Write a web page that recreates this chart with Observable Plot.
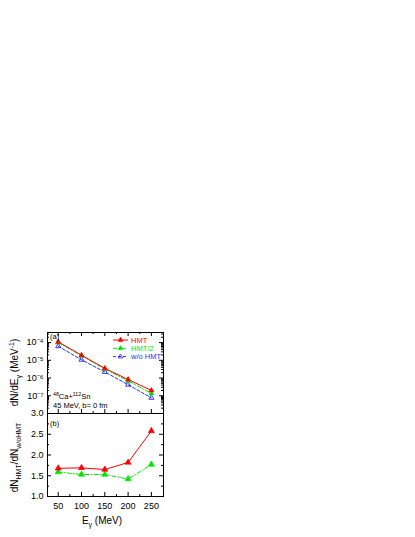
<!DOCTYPE html>
<html><head><meta charset="utf-8">
<script src="https://cdn.jsdelivr.net/npm/d3@7"></script>
<script src="https://cdn.jsdelivr.net/npm/@observablehq/plot@0.6"></script>
<style>
body{margin:0;background:#fff;}
#chart{position:absolute;left:0;top:320px;}
#chart svg{display:block;overflow:visible;}
</style></head><body><div id="chart"></div>
<script>
// ---- data ----
const energies = [50, 100, 150, 200, 250];
const spectrumHMT   = [1.1e-4, 1.95e-5, 3.5e-6, 8.3e-7, 2.0e-7];
const spectrumHMT2  = [1.0e-4, 1.8e-5, 3.2e-6, 7.0e-7, 1.36e-7];
const spectrumNoHMT = [6.2e-5, 1.07e-5, 2.2e-6, 4.2e-7, 7.6e-8];
const ratioHMT  = [1.68, 1.69, 1.65, 1.82, 2.58];
const ratioHMT2 = [1.59, 1.53, 1.53, 1.42, 1.77];
const seriesNames = ["HMT", "HMT/2", "w/o HMT"];
const xTicks = [50, 100, 150, 200, 250];
const xMinorTicks = [75, 125, 175, 225];
const logTicks = [1e-8, 1e-7, 1e-6, 1e-5, 1e-4];
const logTickLabels = ["", "10\u207B\u2077", "10\u207B\u2076", "10\u207B\u2075", "10\u207B\u2074"];
const ratioTicks = [1.0, 1.5, 2.0, 2.5, 3.0];
const ratioMinorTicks = [1.25, 1.75, 2.25, 2.75];

// ---- layout / style ----
const RED = "#ff0000", GREEN = "#00e600", BLUE = "#2a2aff";
const DASHDOT = "4,2,1,2", DASH = "3,2";
const W = 170, ML = 47, MR = 7, WI = W - ML - MR;
const MT1 = 12, H1 = 81;
const H2 = 83, MB2 = 41;
const xDomain = [27, 276];
const FONT = "Arial, 'Liberation Sans', sans-serif";
const MAJ = 4, MIN = 2;

const logMinor = [];
for (let e = -8; e <= -4; e++) for (let m = 2; m <= 9; m++) { const v = m * Math.pow(10, e); if (v <= 3.7e-4) logMinor.push(v); }

function frameTicksX(major, minor, H, bottom = true, top = true) {
  const out = [];
  if (bottom) {
    out.push(Plot.tickX(major, {x: d => d, insetTop: H - MAJ, stroke: "black"}));
    out.push(Plot.tickX(minor, {x: d => d, insetTop: H - MIN, stroke: "black"}));
  }
  if (top) {
    out.push(Plot.tickX(major, {x: d => d, insetBottom: H - MAJ, stroke: "black"}));
    out.push(Plot.tickX(minor, {x: d => d, insetBottom: H - MIN, stroke: "black"}));
  }
  return out;
}
function frameTicksY(major, minor) {
  return [
    Plot.tickY(major, {y: d => d, insetRight: WI - MAJ, stroke: "black"}),
    Plot.tickY(minor, {y: d => d, insetRight: WI - MIN, stroke: "black"}),
    Plot.tickY(major, {y: d => d, insetLeft: WI - MAJ, stroke: "black"}),
    Plot.tickY(minor, {y: d => d, insetLeft: WI - MIN, stroke: "black"})
  ];
}

// ---- upper panel ----
const p1 = Plot.plot({
  width: W, height: MT1 + H1,
  marginTop: MT1, marginBottom: 0, marginLeft: ML, marginRight: MR,
  style: {fontFamily: FONT, fontSize: "9px", background: "white", overflow: "visible", color: "black"},
  x: {domain: xDomain, axis: null},
  y: {type: "log", domain: [1e-8, 3.7e-4]},
  marks: [
    Plot.axisY({ticks: logTicks.slice(1), tickSize: 0, tickPadding: 4, label: null,
      tickFormat: d => logTickLabels[logTicks.indexOf(d)]}),
    ...frameTicksX(xTicks, xMinorTicks, H1),
    ...frameTicksY(logTicks, logMinor),
    Plot.line(energies, {x: d => d, y: (d, i) => spectrumNoHMT[i], stroke: BLUE, strokeWidth: 1, strokeDasharray: DASH}),
    Plot.line(energies, {x: d => d, y: (d, i) => spectrumHMT2[i], stroke: GREEN, strokeWidth: 1, strokeDasharray: DASHDOT}),
    Plot.line(energies, {x: d => d, y: (d, i) => spectrumHMT[i], stroke: RED, strokeWidth: 1}),
    Plot.dot(energies, {x: d => d, y: (d, i) => spectrumNoHMT[i], symbol: "triangle", r: 1.9, stroke: BLUE, fill: "none", strokeWidth: 0.9}),
    Plot.dot(energies, {x: d => d, y: (d, i) => spectrumHMT2[i], symbol: "triangle", r: 1.9, fill: GREEN, stroke: GREEN, strokeWidth: 0.6}),
    Plot.dot(energies, {x: d => d, y: (d, i) => spectrumHMT[i], symbol: "triangle", r: 1.9, fill: RED, stroke: RED, strokeWidth: 0.6}),
    Plot.frame({stroke: "black", strokeWidth: 1})
  ]
});

// ---- lower panel ----
const p2 = Plot.plot({
  width: W, height: H2 + MB2,
  marginTop: 0, marginBottom: MB2, marginLeft: ML, marginRight: MR,
  style: {fontFamily: FONT, fontSize: "9px", background: "white", overflow: "visible", color: "black"},
  x: {domain: xDomain},
  y: {domain: [1, 3]},
  marks: [
    Plot.axisX({ticks: xTicks, tickSize: 0, tickPadding: 6, label: null}),
    Plot.axisY({ticks: ratioTicks, tickSize: 0, tickPadding: 4, label: null, tickFormat: d3.format(".1f")}),
    ...frameTicksX(xTicks, xMinorTicks, H2, true, false),
    ...frameTicksY(ratioTicks, ratioMinorTicks),
    Plot.line(energies, {x: d => d, y: (d, i) => ratioHMT2[i], stroke: GREEN, strokeWidth: 1, strokeDasharray: DASHDOT}),
    Plot.line(energies, {x: d => d, y: (d, i) => ratioHMT[i], stroke: RED, strokeWidth: 1}),
    Plot.dot(energies, {x: d => d, y: (d, i) => ratioHMT2[i], symbol: "triangle", r: 2.3, fill: GREEN, stroke: GREEN, strokeWidth: 0.6}),
    Plot.dot(energies, {x: d => d, y: (d, i) => ratioHMT[i], symbol: "triangle", r: 2.3, fill: RED, stroke: RED, strokeWidth: 0.6}),
    Plot.frame({stroke: "black", strokeWidth: 1})
  ]
});

const chart = document.getElementById("chart");
chart.appendChild(p1);
chart.appendChild(p2);

// ---- rich text annotations ----
const s1 = d3.select(p1), s2 = d3.select(p2);
function txt(sel, x, y, size, parts, opts = {}) {
  const t = sel.append("text").attr("x", x).attr("y", y).attr("font-size", size)
    .attr("font-family", FONT).attr("fill", opts.fill || "black")
    .attr("text-anchor", opts.anchor || "start");
  if (opts.transform) t.attr("transform", opts.transform);
  let shift = 0;
  parts.forEach(p => {
    const [s, kind] = Array.isArray(p) ? p : [p, null];
    const target = kind === "sup" ? -0.4 * size : kind === "sub" ? 0.25 * size : 0;
    const ts = t.append("tspan").text(s).attr("dy", target - shift);
    if (kind) ts.attr("font-size", size * 0.7);
    shift = target;
  });
  return t;
}

// y titles
txt(s1, 0, 0, 10, ["dN/dE", ["\u03B3", "sub"], " (MeV", ["-1", "sup"], ")"],
  {anchor: "middle", transform: `translate(18,${MT1 + H1 / 2}) rotate(-90)`});
txt(s2, 0, 0, 10, ["dN", ["HMT", "sub"], "/dN", ["w/oHMT", "sub"]],
  {anchor: "middle", transform: `translate(18,${H2 / 2 + 3}) rotate(-90)`});
// x title
txt(s2, 102, H2 + 28, 10, ["E", ["\u03B3", "sub"], " (MeV)"], {anchor: "middle"});

// panel labels and reaction text
txt(s1, 50, 18.5, 7.5, ["(a)"]);
txt(s2, 50, 12.5, 7.5, ["(b)"]);
txt(s1, 53, 79, 7.5, [["48", "sup"], "Ca+", ["112", "sup"], "Sn"]);
txt(s1, 53, 88, 7.5, ["45 MeV, b= 0 fm"]);

// legend
const legendStyles = [
  {c: RED, dash: null, fill: RED},
  {c: GREEN, dash: DASHDOT, fill: GREEN},
  {c: BLUE, dash: DASH, fill: "none"}
];
seriesNames.forEach((name, i) => {
  const y = 20 + i * 8.3, st = legendStyles[i];
  s1.append("line").attr("x1", 113).attr("x2", 128).attr("y1", y).attr("y2", y)
    .attr("stroke", st.c).attr("stroke-width", 1).attr("stroke-dasharray", st.dash);
  s1.append("path").attr("d", d3.symbol(d3.symbolTriangle, 9)())
    .attr("transform", `translate(120.5,${y})`).attr("fill", st.fill).attr("stroke", st.c).attr("stroke-width", 0.8);
  txt(s1, 131, y + 2.8, 7.5, [name], {fill: st.c});
});
</script>
</body></html>
